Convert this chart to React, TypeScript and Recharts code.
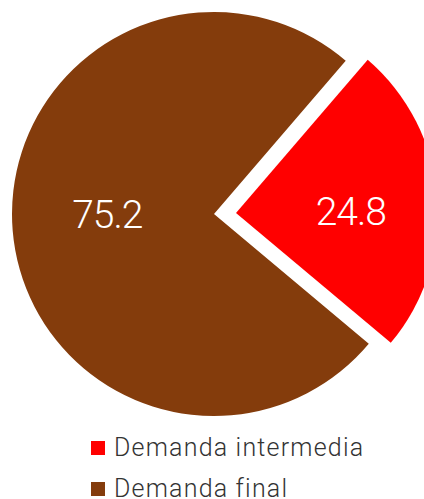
import React from "react";
import { PieChart, Pie, Cell, Legend } from "recharts";

const categories = ["Demanda intermedia", "Demanda final"];
const values = [24.8, 75.2];
const colors = ["#FF0000", "#843C0C"];
const explodedIndex = 0;
const labelRadiusFactors = [0.57, 0.53];

const data = categories.map((name, i) => ({ name, value: values[i] }));

const RADIAN = Math.PI / 180;
const START = 49.3;

const makeLabel = (visible: number) => (props: any) => {
  const { cx, cy, midAngle, outerRadius, index, value } = props;
  if (index !== visible) return null;
  const r = outerRadius * labelRadiusFactors[index];
  const x = cx + r * Math.cos(-midAngle * RADIAN);
  const y = cy + r * Math.sin(-midAngle * RADIAN) * 0.1;
  return (
    <text
      x={x}
      y={y}
      fill="#FFFFFF"
      textAnchor="middle"
      dominantBaseline="central"
      fontFamily="Roboto, 'Noto Sans', sans-serif"
      fontWeight={300}
      fontSize={39}
      letterSpacing={-1}
    >
      {Number(value).toFixed(1)}
    </text>
  );
};

const renderLegend = () => (
  <div style={{ paddingLeft: 91 }}>
    {categories.map((c, i) => (
      <div
        key={c}
        style={{
          display: "flex",
          alignItems: "center",
          height: 41,
          fontFamily: "Roboto, 'Noto Sans', sans-serif",
          fontWeight: 300,
          fontSize: 25,
          letterSpacing: 1.2,
          color: "#333333",
        }}
      >
        <span
          style={{
            display: "inline-block",
            width: 14,
            height: 14,
            background: colors[i],
            marginRight: 9,
          }}
        />
        <span>{c}</span>
      </div>
    ))}
  </div>
);

export default function App() {
  return (
    <div style={{ position: "absolute", left: 0, top: 0 }}>
      <PieChart width={424} height={499} margin={{ top: 0, right: 0, bottom: 0, left: 0 }}>
        <Pie
          data={data}
          dataKey="value"
          nameKey="name"
          cx={214}
          cy={214}
          outerRadius={202}
          startAngle={START}
          endAngle={START - 360}
          stroke="none"
          isAnimationActive={false}
          labelLine={false}
          label={makeLabel(1)}
        >
          {data.map((d, i) => (
            <Cell key={d.name} fill={i === explodedIndex ? "transparent" : colors[i]} />
          ))}
        </Pie>
        <Pie
          data={data}
          dataKey="value"
          nameKey="name"
          cx={236}
          cy={213}
          outerRadius={202}
          startAngle={START}
          endAngle={START - 360}
          stroke="none"
          isAnimationActive={false}
          labelLine={false}
          label={makeLabel(0)}
        >
          {data.map((d, i) => (
            <Cell key={d.name} fill={i === explodedIndex ? colors[i] : "transparent"} />
          ))}
        </Pie>
        <Legend
          content={renderLegend}
          wrapperStyle={{ left: 0, top: 427, width: 424 }}
        />
      </PieChart>
    </div>
  );
}
